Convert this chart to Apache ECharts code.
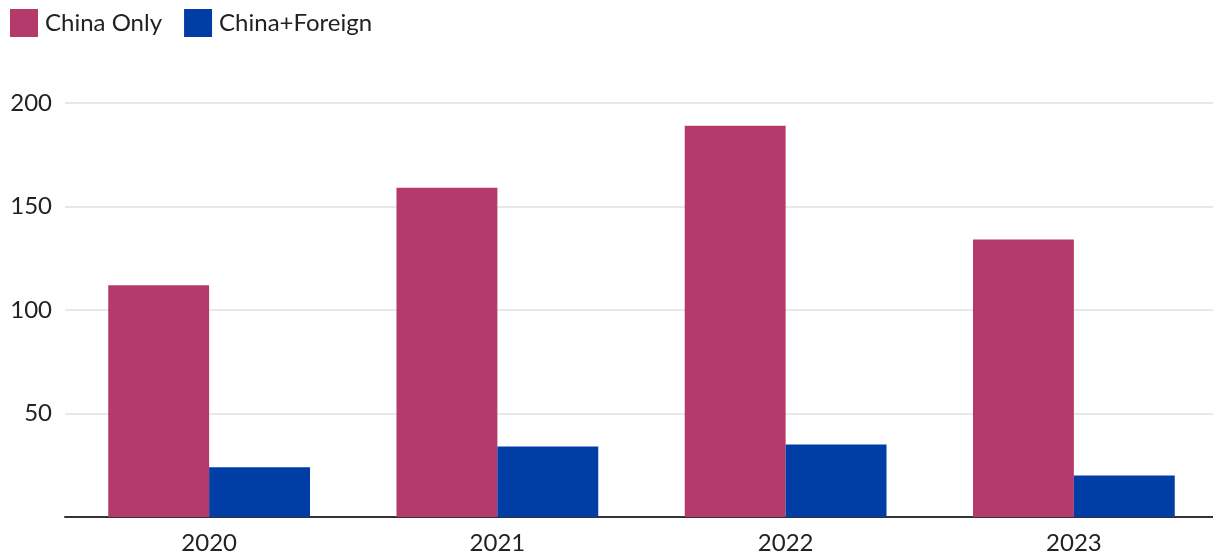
<!DOCTYPE html>
<html>
<head>
<meta charset="utf-8">
<script src="https://cdn.jsdelivr.net/npm/echarts@6/dist/echarts.min.js"></script>
<style>
  html, body { margin: 0; padding: 0; background: #fff; }
  #chart { width: 1213px; height: 556px; }
</style>
</head>
<body>
<div id="chart"></div>
<script>
// Annual counts, split by whether the work was China-only or joint with foreign partners
const years = ['2020', '2021', '2022', '2023'];
const chinaOnly = [112, 159, 189, 134];
const chinaForeign = [24, 34, 35, 20];
const yTicks = [50, 100, 150, 200];

const FONT = 'Lato, "Noto Sans", sans-serif';

const chart = echarts.init(document.getElementById('chart'), null, { renderer: 'canvas' });
chart.setOption({
  animation: false,
  textStyle: { fontFamily: FONT },
  legend: {
    left: 10,
    top: 9,
    padding: 0,
    itemWidth: 28,
    itemHeight: 28,
    itemGap: 22,
    icon: 'rect',
    textStyle: { fontFamily: FONT, fontSize: 24, color: '#222', padding: [0, 0, 0, 2] },
    data: ['China Only', 'China+Foreign']
  },
  // plot area runs slightly past the right edge of the canvas
  grid: { left: 65, right: -5, top: 103, bottom: 39, outerBoundsMode: 'none' },
  xAxis: {
    type: 'category',
    data: years,
    axisLine: { lineStyle: { color: '#333', width: 2 } },
    axisTick: { show: false },
    axisLabel: { fontFamily: FONT, fontSize: 24, color: '#222', margin: 14 }
  },
  yAxis: {
    type: 'value',
    min: 0,
    max: 200,
    interval: 50,
    axisLine: { show: false },
    axisTick: { show: false },
    splitLine: { lineStyle: { color: '#e8e8e8', width: 2 } },
    axisLabel: {
      fontFamily: FONT, fontSize: 24, color: '#222', margin: 13,
      formatter: v => (yTicks.includes(v) ? String(v) : '')
    }
  },
  series: [
    {
      name: 'China Only',
      type: 'bar',
      data: chinaOnly,
      itemStyle: { color: '#b43a6c' },
      barGap: '0%',
      barCategoryGap: '30%'
    },
    {
      name: 'China+Foreign',
      type: 'bar',
      data: chinaForeign,
      itemStyle: { color: '#003ea6' },
      barGap: '0%',
      barCategoryGap: '30%'
    }
  ]
});
</script>
</body>
</html>
